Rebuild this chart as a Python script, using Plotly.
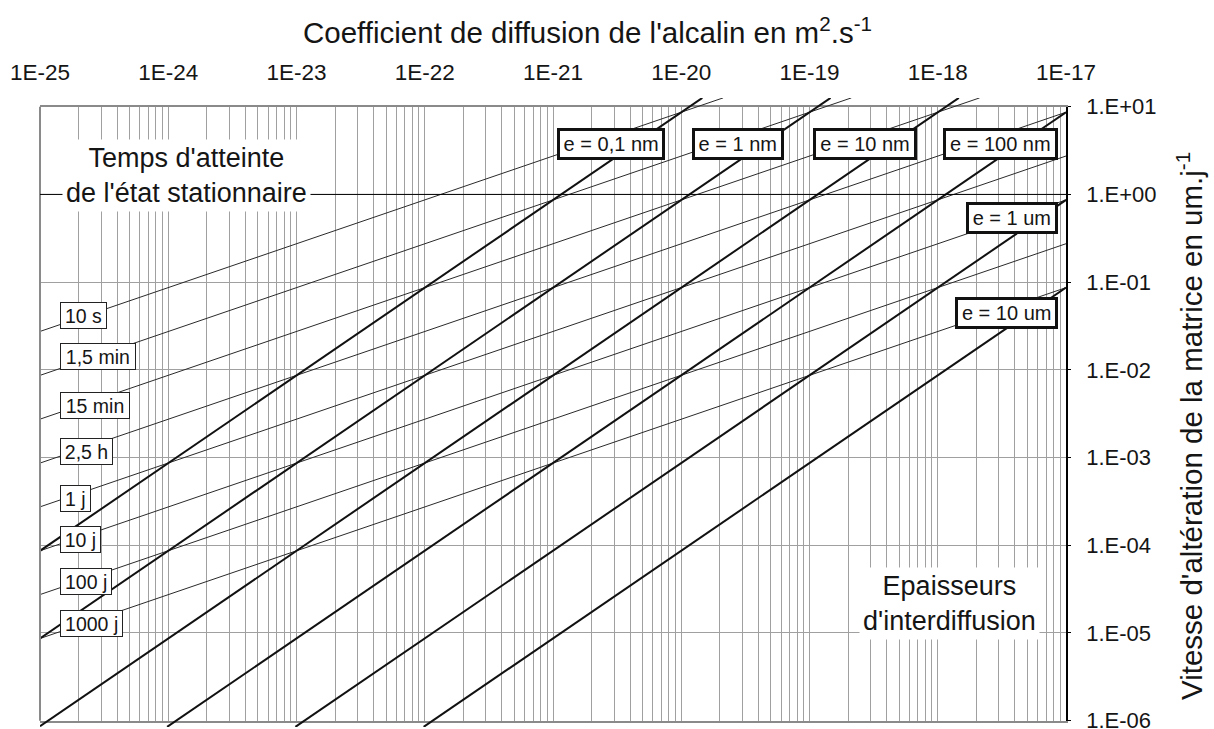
import plotly.graph_objects as go

# ---------------- data ----------------
# Thick lines: interdiffusion thickness e (start / end points, D in m2/s, v in um/j)
thick_labels = ["e = 0,1 nm", "e = 1 nm", "e = 10 nm", "e = 100 nm", "e = 1 um", "e = 10 um"]
thick_D_start = [1e-25, 1e-25, 1e-25, 9.8e-25, 9.8e-24, 9.8e-23]
thick_v_start = [8.65e-5, 8.65e-6, 8.65e-7, 8.5e-7, 8.5e-7, 8.5e-7]
thick_D_end = [1.46e-20, 1.46e-19, 1.46e-18, 1e-17, 1e-17, 1e-17]
thick_v_end = [12.6, 12.6, 12.6, 8.65, 0.865, 0.0865]

# Thin lines: time to reach the steady state
time_labels = ["10 s", "1,5 min", "15 min", "2,5 h", "1 j", "10 j", "100 j", "1000 j"]
time_D_start = [1e-25, 1e-25, 1e-25, 1e-25, 1e-25, 1e-25, 1e-25, 1e-25]
time_v_start = [2.74e-2, 8.65e-3, 2.74e-3, 8.65e-4, 2.74e-4, 8.65e-5, 2.74e-5, 8.65e-6]
time_D_end = [2.12e-20, 2.12e-19, 2.12e-18, 1e-17, 1e-17, 1e-17, 1e-17, 1e-17]
time_v_end = [12.6, 12.6, 12.6, 8.65, 2.74, 0.865, 0.274, 0.0865]

x_tick_vals = [1e-25, 1e-24, 1e-23, 1e-22, 1e-21, 1e-20, 1e-19, 1e-18, 1e-17]
x_tick_text = ["1E-25", "1E-24", "1E-23", "1E-22", "1E-21", "1E-20", "1E-19", "1E-18", "1E-17"]
y_tick_vals = [1e-6, 1e-5, 1e-4, 1e-3, 1e-2, 1e-1, 1e0, 1e1]
y_tick_text = ["1.E-06", "1.E-05", "1.E-04", "1.E-03", "1.E-02", "1.E-01", "1.E+00", "1.E+01"]

x_title = "Coefficient de diffusion de l'alcalin en m<sup>2</sup>.s<sup>-1</sup>"
y_title = "Vitesse d'altération de la matrice en um.j<sup>-1</sup>"
note_time = "Temps d'atteinte<br>de l'état stationnaire"
note_thick = "Epaisseurs<br>d'interdiffusion"

# ---------------- layout geometry ----------------
W, H = 1214, 729
L, R, T, B = 40, 1066, 106.7, 720.7
ml, mr, mt, mb = 40, W - 1066, 98, 2
pw, ph = W - ml - mr, H - mt - mb
dom_y = [(H - mb - B) / ph, 1 - (T - mt) / ph]
pxdec = (B - T) / 7.0
y2range = [-6 - (H - mb - B) / pxdec, 1 + (T - mt) / pxdec]


def px(x):
    return (x - ml) / pw


def py(y):
    return 1 - (y - mt) / ph


FONT = "Liberation Sans, Arial, Helvetica, sans-serif"
TXT = "#151515"
GRID = "#a0a0a0"

fig = go.Figure()

for i in range(len(time_labels)):
    fig.add_trace(go.Scatter(
        x=[time_D_start[i], time_D_end[i]], y=[time_v_start[i], time_v_end[i]],
        mode="lines", line=dict(color="#2a2a2a", width=1),
        xaxis="x2", yaxis="y2", showlegend=False, hoverinfo="skip"))

for i in range(len(thick_labels)):
    fig.add_trace(go.Scatter(
        x=[thick_D_start[i], thick_D_end[i]], y=[thick_v_start[i], thick_v_end[i]],
        mode="lines", line=dict(color="#111111", width=2),
        xaxis="x2", yaxis="y2", showlegend=False, hoverinfo="skip"))

minor_vals = [k * 10.0 ** e for e in range(-25, -17) for k in range(2, 10)]

fig.update_layout(
    width=W, height=H, template="none",
    margin=dict(l=ml, r=mr, t=mt, b=mb, pad=0),
    paper_bgcolor="white", plot_bgcolor="rgba(0,0,0,0)",
    font=dict(family=FONT, color=TXT),
    showlegend=False,
    xaxis=dict(type="log", range=[-25, -17], domain=[0, 1], anchor="y", side="top",
               tickmode="array", tickvals=x_tick_vals, ticktext=x_tick_text,
               tickfont=dict(size=22.5, color=TXT, family=FONT), ticks="",
               ticklabelstandoff=16, ticklabeloverflow="allow",
               showgrid=True, gridcolor=GRID, gridwidth=1.3,
               minor=dict(tickmode="array", tickvals=minor_vals, showgrid=True,
                          gridcolor=GRID, gridwidth=1.3, ticks=""),
               showline=True, linecolor="#8a8a8a", linewidth=2, mirror=True,
               zeroline=False, automargin=False, fixedrange=True),
    yaxis=dict(type="log", range=[-6, 1], domain=dom_y, anchor="x", side="right",
               tickmode="array", tickvals=y_tick_vals, ticktext=y_tick_text,
               tickfont=dict(size=22, color=TXT, family=FONT),
               ticks="outside", ticklen=3, tickcolor="black", tickwidth=1,
               ticklabelstandoff=11, ticklabeloverflow="allow",
               showgrid=True, gridcolor=GRID, gridwidth=1.3,
               showline=True, linecolor="black", linewidth=1.5, mirror=False,
               zeroline=False, automargin=False, fixedrange=True),
    xaxis2=dict(type="log", range=[-25, -17], domain=[0, 1], anchor="y2",
                visible=False, fixedrange=True),
    yaxis2=dict(type="log", range=y2range, domain=[0, 1], anchor="x2",
                visible=False, fixedrange=True),
)

# left frame edge (gray) and the horizontal reference line at 1 um/j
fig.add_shape(type="line", xref="x domain", yref="y domain", x0=0, x1=0, y0=0, y1=1,
              line=dict(color="#8a8a8a", width=2))
fig.add_shape(type="line", xref="x domain", yref="y", x0=0, x1=1, y0=1, y1=1,
              line=dict(color="black", width=1))

ann = []
ann.append(dict(text=x_title, x=px(587), y=py(31), xref="paper", yref="paper",
                xanchor="center", yanchor="middle",
                showarrow=False, font=dict(size=29.5, color=TXT)))
ann.append(dict(text=y_title, x=px(1189), y=py(426), xref="paper", yref="paper",
                xanchor="center", yanchor="middle",
                textangle=-90, showarrow=False, font=dict(size=29.5, color=TXT)))
ann.append(dict(text=note_time, x=px(186), y=py(175), xref="paper", yref="paper",
                xanchor="center", yanchor="middle",
                showarrow=False, bgcolor="white", borderpad=3,
                font=dict(size=27, color=TXT)))
ann.append(dict(text=note_thick, x=px(949), y=py(603), xref="paper", yref="paper",
                xanchor="center", yanchor="middle",
                showarrow=False, bgcolor="white", borderpad=3,
                font=dict(size=27, color=TXT)))

time_box_y = [315.3, 356.7, 405.5, 451.3, 498.2, 539.8, 581.7, 623.8]
time_box_w = [47, 75.7, 70, 53, 30.7, 41, 52.3, 63.3]
for lab, yc, wbox in zip(time_labels, time_box_y, time_box_w):
    ann.append(dict(text=lab, x=px(60), y=py(yc), xref="paper", yref="paper",
                    xanchor="left", yanchor="middle", showarrow=False,
                    bgcolor="white", bordercolor="#222", borderwidth=1, borderpad=1,
                    width=wbox - 4, height=23, align="center", valign="middle",
                    font=dict(size=19.5, color=TXT)))

thick_box_xy = [(610.8, 144.2), (737.5, 144.2), (865.3, 143.7), (1000, 144.2),
                (1011.8, 217.5), (1006, 312.5)]
thick_box_w = [108.3, 91.6, 104, 114.6, 91.7, 103.4]
for lab, (xc, yc), wbox in zip(thick_labels, thick_box_xy, thick_box_w):
    ann.append(dict(text=lab, x=px(xc), y=py(yc), xref="paper", yref="paper",
                    xanchor="center", yanchor="middle", showarrow=False,
                    bgcolor="white", bordercolor="#111", borderwidth=3, borderpad=1,
                    width=wbox - 8, height=24, align="center", valign="middle",
                    font=dict(size=20, color=TXT)))

fig.update_layout(annotations=ann)

fig.write_html("out.html",
               config={"displayModeBar": False},
               post_script="document.body.style.margin='0px';"
                           "document.body.style.overflow='hidden';")
